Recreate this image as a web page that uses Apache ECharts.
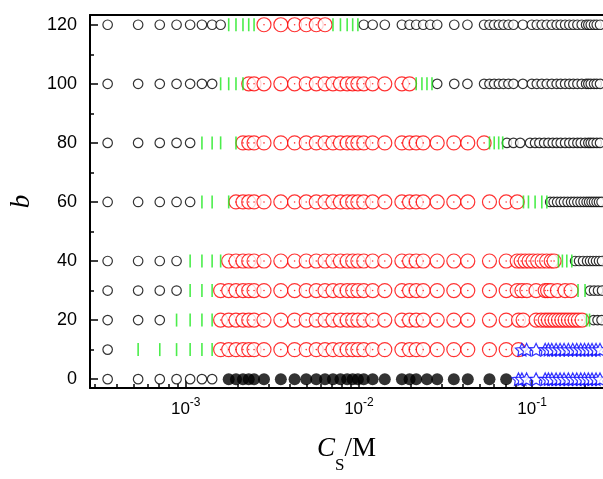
<!DOCTYPE html>
<html>
<head>
<meta charset="utf-8">
<script src="https://cdn.jsdelivr.net/npm/echarts@6/dist/echarts.min.js"></script>
<style>
html,body{margin:0;padding:0;background:#fff;}
#chart{width:603px;height:479px;}
</style>
</head>
<body>
<div id="chart"></div>
<script>
// ---------------- data ----------------
const rows = [0, 10, 20, 30, 40, 60, 80, 100, 120];

const xMajorTicks = [0.001, 0.01, 0.1];
const xMinorTicks = [3e-4, 4e-4, 5e-4, 6e-4, 7e-4, 8e-4, 9e-4,
  2e-3, 3e-3, 4e-3, 5e-3, 6e-3, 7e-3, 8e-3, 9e-3,
  0.02, 0.03, 0.04, 0.05, 0.06, 0.07, 0.08, 0.09, 0.2];
const yMajorTicks = [0, 20, 40, 60, 80, 100, 120];
const yMinorTicks = [10, 30, 50, 70, 90, 110];

// black open circles (one list per row, same order as rows)
const openBlackX = [
  [3.54e-4, 5.31e-4, 7.08e-4, 8.85e-4, 1.06e-3, 1.24e-3, 1.42e-3],
  [3.54e-4],
  [3.54e-4, 5.31e-4, 7.08e-4, 0.2262, 0.2385, 0.2515],
  [3.54e-4, 5.31e-4, 7.08e-4, 8.85e-4, 0.2160, 0.2277, 0.2401, 0.2532],
  [3.54e-4, 5.31e-4, 7.08e-4, 8.85e-4, 0.1770, 0.1866, 0.1967, 0.2075, 0.2160, 0.2247, 0.2339, 0.2433, 0.2532],
  [3.54e-4, 5.31e-4, 7.08e-4, 8.85e-4, 1.06e-3, 0.1271, 0.1331, 0.1394, 0.1460, 0.1528, 0.1602, 0.1678, 0.1746, 0.1825, 0.1904, 0.1983, 0.2063, 0.2132, 0.2204, 0.2277, 0.2355, 0.2433, 0.2516],
  [3.54e-4, 5.31e-4, 7.08e-4, 8.85e-4, 1.06e-3, 0.0715, 0.0780, 0.0853, 0.0973, 0.1040, 0.1102, 0.1173, 0.1242, 0.1316, 0.1387, 0.1462, 0.1550, 0.1640, 0.1729, 0.1825, 0.1909, 0.2020, 0.2111, 0.2180, 0.2256, 0.2360, 0.2466],
  [3.54e-4, 5.31e-4, 7.08e-4, 8.85e-4, 1.06e-3, 1.24e-3, 1.42e-3, 0.0283, 0.0355, 0.0423, 0.0528, 0.0567, 0.0604, 0.0643, 0.0683, 0.0730, 0.0780, 0.0884, 0.0996, 0.1064, 0.1137, 0.1216, 0.1299, 0.1387, 0.1462, 0.1550, 0.1640, 0.1729, 0.1825, 0.1933, 0.2049, 0.2111, 0.2180, 0.2277, 0.2360, 0.2466],
  [3.54e-4, 5.31e-4, 7.08e-4, 8.85e-4, 1.06e-3, 1.24e-3, 1.42e-3, 1.59e-3, 0.01066, 0.0120, 0.0141, 0.0177, 0.0196, 0.0214, 0.0235, 0.0258, 0.0283, 0.0355, 0.0423, 0.0528, 0.0567, 0.0604, 0.0643, 0.0683, 0.0730, 0.0780, 0.0884, 0.0996, 0.1064, 0.1137, 0.1216, 0.1299, 0.1387, 0.1462, 0.1550, 0.1640, 0.1729, 0.1825, 0.1933, 0.2049, 0.2111, 0.2180, 0.2277, 0.2360, 0.2466]
];

// green vertical bars
const greenX = [
  [],
  [5.31e-4, 7.08e-4, 8.85e-4, 1.06e-3, 1.24e-3, 1.42e-3],
  [8.85e-4, 1.06e-3, 1.24e-3, 1.42e-3, 0.2063, 0.2145],
  [1.06e-3, 1.24e-3, 1.42e-3, 0.1841, 0.2020],
  [1.06e-3, 1.24e-3, 1.42e-3, 1.59e-3, 0.1419, 0.1495, 0.1585, 0.1694],
  [1.24e-3, 1.42e-3, 1.77e-3, 0.0891, 0.0952, 0.1040, 0.1137, 0.1216],
  [1.24e-3, 1.42e-3, 1.59e-3, 1.95e-3, 0.0567, 0.0604, 0.0641, 0.0676],
  [1.59e-3, 1.77e-3, 1.95e-3, 2.14e-3, 0.0214, 0.0231, 0.0247, 0.0264],
  [1.77e-3, 1.95e-3, 2.14e-3, 2.31e-3, 2.48e-3, 7.08e-3, 7.82e-3, 8.55e-3, 9.2e-3, 9.86e-3]
];

// red open circles
const redX = [
  [],
  [1.59e-3, 1.77e-3, 1.95e-3, 2.14e-3, 2.31e-3, 2.48e-3, 2.83e-3, 3.54e-3, 4.25e-3, 4.96e-3, 5.67e-3, 6.37e-3, 7.08e-3, 7.82e-3, 8.55e-3, 9.2e-3, 9.86e-3, 0.01066, 0.0120, 0.0141, 0.0177, 0.0196, 0.0214, 0.0235, 0.0283, 0.0353, 0.0425, 0.0567, 0.0708, 0.0834],
  [1.59e-3, 1.77e-3, 1.95e-3, 2.14e-3, 2.31e-3, 2.48e-3, 2.83e-3, 3.54e-3, 4.25e-3, 4.96e-3, 5.67e-3, 6.37e-3, 7.08e-3, 7.82e-3, 8.55e-3, 9.2e-3, 9.86e-3, 0.01066, 0.0120, 0.0141, 0.0177, 0.0196, 0.0214, 0.0235, 0.0283, 0.0353, 0.0425, 0.0567, 0.0708, 0.0834, 0.0887, 0.1054, 0.1127, 0.1189, 0.1242, 0.1299, 0.1357, 0.1419, 0.1484, 0.1550, 0.1619, 0.1694, 0.1770, 0.1849, 0.1942],
  [1.59e-3, 1.77e-3, 1.95e-3, 2.14e-3, 2.31e-3, 2.48e-3, 2.83e-3, 3.54e-3, 4.25e-3, 4.96e-3, 5.67e-3, 6.37e-3, 7.08e-3, 7.82e-3, 8.55e-3, 9.2e-3, 9.86e-3, 0.01066, 0.0120, 0.0141, 0.0177, 0.0196, 0.0214, 0.0235, 0.0283, 0.0353, 0.0425, 0.0567, 0.0708, 0.0820, 0.0873, 0.0932, 0.1054, 0.1189, 0.1228, 0.1282, 0.1399, 0.1550, 0.1678],
  [1.77e-3, 1.95e-3, 2.14e-3, 2.31e-3, 2.48e-3, 2.83e-3, 3.54e-3, 4.25e-3, 4.96e-3, 5.67e-3, 6.37e-3, 7.08e-3, 7.82e-3, 8.55e-3, 9.2e-3, 9.86e-3, 0.01066, 0.0120, 0.0141, 0.0177, 0.0196, 0.0214, 0.0235, 0.0283, 0.0353, 0.0425, 0.0567, 0.0708, 0.0820, 0.0864, 0.0911, 0.0961, 0.1013, 0.1076, 0.1142, 0.1213, 0.1288, 0.1339],
  [1.95e-3, 2.14e-3, 2.31e-3, 2.48e-3, 2.83e-3, 3.54e-3, 4.25e-3, 4.96e-3, 5.67e-3, 6.37e-3, 7.08e-3, 7.82e-3, 8.55e-3, 9.2e-3, 9.86e-3, 0.01066, 0.0120, 0.0141, 0.0177, 0.0196, 0.0214, 0.0235, 0.0283, 0.0353, 0.0425, 0.0567, 0.0708, 0.0820],
  [2.14e-3, 2.31e-3, 2.48e-3, 2.83e-3, 3.54e-3, 4.25e-3, 4.96e-3, 5.67e-3, 6.37e-3, 7.08e-3, 7.82e-3, 8.55e-3, 9.2e-3, 9.86e-3, 0.01066, 0.0120, 0.0141, 0.0177, 0.0196, 0.0214, 0.0235, 0.0283, 0.0353, 0.0425, 0.0528],
  [2.31e-3, 2.48e-3, 2.83e-3, 3.54e-3, 4.25e-3, 4.96e-3, 5.67e-3, 6.37e-3, 7.08e-3, 7.82e-3, 8.55e-3, 9.2e-3, 9.86e-3, 0.01066, 0.0120, 0.0141, 0.0177, 0.0196],
  [2.83e-3, 3.54e-3, 4.25e-3, 4.96e-3, 5.67e-3, 6.37e-3]
];

// black filled circles
const filledBlackX = [
  [1.77e-3, 1.95e-3, 2.14e-3, 2.31e-3, 2.48e-3, 2.83e-3, 3.54e-3, 4.25e-3, 4.96e-3, 5.67e-3, 6.37e-3, 7.08e-3, 7.82e-3, 8.55e-3, 9.2e-3, 9.86e-3, 0.01066, 0.0120, 0.0141, 0.0177, 0.0196, 0.0214, 0.0247, 0.0283, 0.0353, 0.0425, 0.0567, 0.0708],
  [], [], [], [], [], [], [], []
];

// blue open stars
const starX = [
  [0.0834, 0.0873, 0.0929, 0.1054, 0.1189, 0.1242, 0.1299, 0.1375, 0.1450, 0.1529, 0.1619, 0.1716, 0.1810, 0.1909, 0.2007, 0.2111, 0.2217, 0.2338, 0.2465],
  [0.0873, 0.0929, 0.1054, 0.1189, 0.1242, 0.1299, 0.1375, 0.1450, 0.1529, 0.1619, 0.1716, 0.1810, 0.1909, 0.2007, 0.2111, 0.2217, 0.2338, 0.2465],
  [], [], [], [], [], [], []
];

// ---------------- chart ----------------
function pairs(lists) {
  const out = [];
  lists.forEach((xs, i) => xs.forEach(x => out.push([x, rows[i]])));
  return out;
}

const xMin = 2.8e-4, xMax = 0.2565;
const yMin = -3, yMax = 123.3;
const starPath = 'path://M0,-10L2.94,-4.05L9.51,-3.09L4.76,1.55L5.88,8.09L0,5L-5.88,8.09L-4.76,1.55L-9.51,-3.09L-2.94,-4.05Z';

const chart = echarts.init(document.getElementById('chart'), null, {renderer: 'canvas'});
const sansFont = 'Liberation Sans, Arial, sans-serif';
const serifFont = 'Liberation Serif, Times New Roman, serif';

const option = {
  animation: false,
  backgroundColor: '#fff',
  grid: {left: 89, right: 0, top: 15, bottom: 79, containLabel: false},
  xAxis: [
    {
      type: 'log', logBase: 10, min: xMin, max: xMax, position: 'bottom',
      axisLine: {show: true, onZero: false, lineStyle: {color: '#000', width: 2}},
      axisTick: {show: true, inside: true, length: 8, customValues: xMajorTicks, lineStyle: {color: '#000', width: 1.5}},
      axisLabel: {
        show: true, customValues: xMajorTicks, margin: 9,
        formatter: v => '{a|10}{b|' + Math.round(Math.log10(v)) + '}',
        rich: {
          a: {fontFamily: sansFont, fontSize: 17, color: '#000'},
          b: {fontFamily: sansFont, fontSize: 12, color: '#000', padding: [0, 0, 12, 0]}
        }
      },
      splitLine: {show: false}, minorTick: {show: false}, minorSplitLine: {show: false},
      name: '{c|C}{s|S}{m|/M}', nameLocation: 'middle', nameGap: 35,
      nameTextStyle: {
        rich: {
          c: {fontFamily: serifFont, fontStyle: 'italic', fontSize: 27, color: '#000'},
          s: {fontFamily: serifFont, fontSize: 17, color: '#000', padding: [34, 0, 0, 0]},
          m: {fontFamily: serifFont, fontSize: 27, color: '#000'}
        }
      }
    },
    {
      type: 'log', logBase: 10, min: xMin, max: xMax, position: 'bottom',
      axisLine: {show: false, onZero: false},
      axisTick: {show: true, inside: true, length: 4, customValues: xMinorTicks, lineStyle: {color: '#000', width: 1.5}},
      axisLabel: {show: false},
      splitLine: {show: false}
    },
    {
      type: 'log', logBase: 10, min: xMin, max: xMax, position: 'top',
      axisLine: {show: true, onZero: false, lineStyle: {color: '#000', width: 2}},
      axisTick: {show: false}, axisLabel: {show: false}, splitLine: {show: false}
    }
  ],
  yAxis: [
    {
      type: 'value', min: yMin, max: yMax, position: 'left',
      axisLine: {show: true, onZero: false, lineStyle: {color: '#000', width: 2}},
      axisTick: {show: true, inside: true, length: 8, customValues: yMajorTicks, lineStyle: {color: '#000', width: 1.5}},
      axisLabel: {show: true, customValues: yMajorTicks, margin: 13, fontFamily: sansFont, fontSize: 18, color: '#000'},
      splitLine: {show: false},
      name: 'b', nameLocation: 'middle', nameGap: 55, nameRotate: 90,
      nameTextStyle: {fontFamily: serifFont, fontStyle: 'italic', fontSize: 27, color: '#000'}
    },
    {
      type: 'value', min: yMin, max: yMax, position: 'left',
      axisLine: {show: false, onZero: false},
      axisTick: {show: true, inside: true, length: 4, customValues: yMinorTicks, lineStyle: {color: '#000', width: 1.5}},
      axisLabel: {show: false}, splitLine: {show: false}
    }
  ],
  series: [
    {
      type: 'scatter', name: 'open', data: pairs(openBlackX), symbol: 'circle', symbolSize: 9.5,
      itemStyle: {color: '#fff', borderColor: '#000', borderWidth: 1.2}, silent: true
    },
    {
      type: 'scatter', name: 'red', data: pairs(redX), symbol: 'circle', symbolSize: 14,
      itemStyle: {color: '#fff', borderColor: '#ff0000', borderWidth: 1.2}, silent: true
    },
    {
      type: 'scatter', name: 'redDot', data: pairs(redX), symbol: 'circle', symbolSize: 1.6,
      itemStyle: {color: '#ff0000'}, silent: true
    },
    {
      type: 'scatter', name: 'green', data: pairs(greenX), symbol: 'rect', symbolSize: [1.6, 13],
      itemStyle: {color: '#1ee81e'}, silent: true
    },
    {
      type: 'scatter', name: 'filled', data: pairs(filledBlackX), symbol: 'circle', symbolSize: 12,
      itemStyle: {color: '#000'}, silent: true
    },
    {
      type: 'scatter', name: 'star', data: pairs(starX), symbol: starPath, symbolSize: 13, symbolKeepAspect: true,
      itemStyle: {color: '#fff', borderColor: '#0000ff', borderWidth: 1.2}, silent: true
    }
  ]
};
chart.setOption(option);
</script>
</body>
</html>
